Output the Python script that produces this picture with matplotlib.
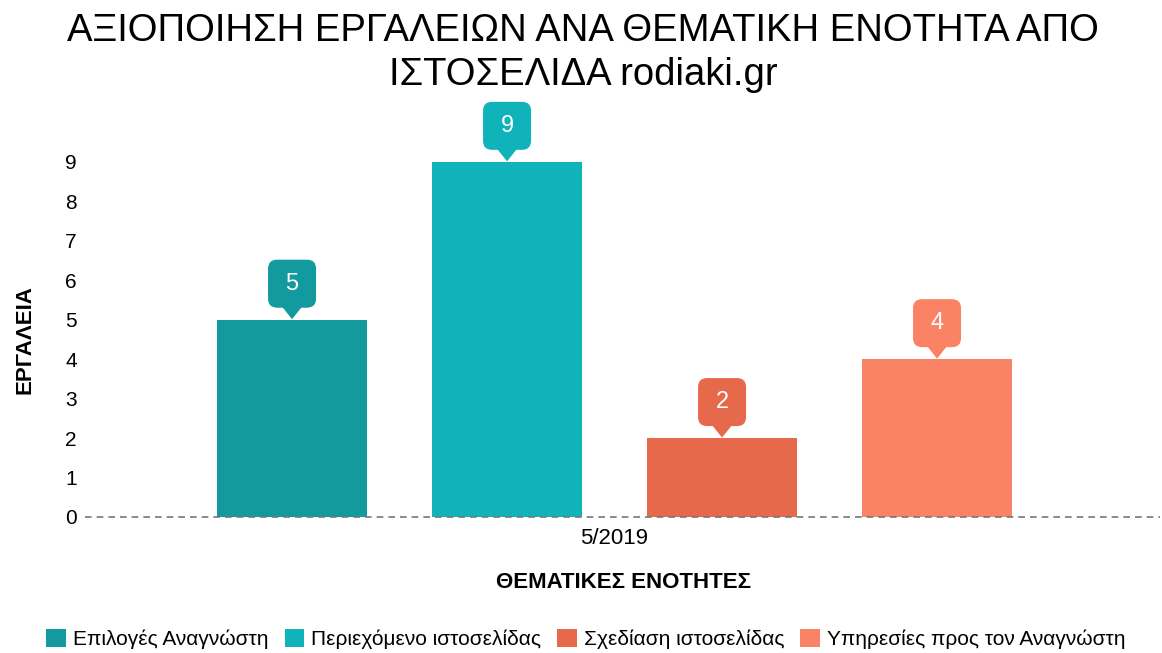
import matplotlib
matplotlib.use("Agg")
import matplotlib.pyplot as plt
import matplotlib.transforms as mtransforms
from matplotlib.patches import FancyBboxPatch, Polygon

plt.rcParams['font.family'] = ['Liberation Sans', 'DejaVu Sans']

title = "ΑΞΙΟΠΟΙΗΣΗ ΕΡΓΑΛΕΙΩΝ ΑΝΑ ΘΕΜΑΤΙΚΗ ΕΝΟΤΗΤΑ ΑΠΟ\nΙΣΤΟΣΕΛΙΔΑ rodiaki.gr"
category = "5/2019"
series_names = ["Επιλογές Αναγνώστη", "Περιεχόμενο ιστοσελίδας",
                "Σχεδίαση ιστοσελίδας", "Υπηρεσίες προς τον Αναγνώστη"]
values = [5, 9, 2, 4]
colors = ["#129A9F", "#11B3BA", "#E6694C", "#FA8265"]
yticks = list(range(0, 10))
ylabel = "ΕΡΓΑΛΕΙΑ"
xlabel = "ΘΕΜΑΤΙΚΕΣ ΕΝΟΤΗΤΕΣ"

W, H = 1162, 653
fig = plt.figure(figsize=(W / 100, H / 100), dpi=100)
ax_left, ax_right, ax_bottom, ax_top = 85, 1160, 517, 150
ax = fig.add_axes([ax_left / W, (H - ax_bottom) / H,
                   (ax_right - ax_left) / W, (ax_bottom - ax_top) / H])

positions = list(range(len(values)))
bars = []
for i, (v, c, n) in enumerate(zip(values, colors, series_names)):
    b = ax.bar(positions[i], v, width=0.7, color=c, label=n, zorder=2)
    bars.append(b)

ax.set_xlim(-0.963, 4.037)
ax.set_ylim(0, 9.3)
ax.set_yticks(yticks)
ax.set_yticklabels([str(t) for t in yticks], fontsize=15)
ax.set_xticks([1.5])
ax.set_xticklabels([category], fontsize=16)
ax.tick_params(length=0)
ax.tick_params(axis='x', pad=8)
ax.tick_params(axis='y', pad=6)
for s in ax.spines.values():
    s.set_visible(False)
ax.axhline(0, color="#777777", lw=1.2, ls=(0, (4, 3)), zorder=3, clip_on=False)

# callouts (shape in inches around data anchor)
bw, bh, gap, tw = 0.48, 0.48, 0.12, 0.20
for x, v, c in zip(positions, values, colors):
    tr = fig.dpi_scale_trans + mtransforms.ScaledTranslation(x, v, ax.transData)
    box = FancyBboxPatch((-bw / 2, gap), bw, bh,
                         boxstyle="round,pad=0,rounding_size=0.09",
                         facecolor=c, edgecolor='none', transform=tr,
                         clip_on=False, zorder=4)
    ax.add_patch(box)
    tri = Polygon([(-tw / 2, gap + 0.01), (tw / 2, gap + 0.01), (0, 0.005)],
                  closed=True, facecolor=c, edgecolor='none', transform=tr,
                  clip_on=False, zorder=4)
    ax.add_patch(tri)
    ax.text(0, gap + bh / 2, str(v), transform=tr, ha='center', va='center',
            color='white', fontsize=17, zorder=5, clip_on=False)

fig.text(583 / W, 1 - 53 / H, title, ha='center', va='center', fontsize=27.5,
         linespacing=1.3)
fig.text(25 / W, 1 - 340 / H, ylabel, rotation=90, ha='center', va='center',
         fontsize=16, fontweight='bold')
fig.text(624 / W, 1 - 583 / H, xlabel, ha='center', va='center',
         fontsize=16, fontweight='bold')

handles = [b.patches[0] for b in bars]
fig.legend(handles, series_names, loc='center', bbox_to_anchor=(586 / W, 1 - 639 / H),
           ncol=4, frameon=False, fontsize=15, handlelength=0.95, handleheight=0.95,
           handletextpad=0.33, columnspacing=0.77, borderpad=0, borderaxespad=0)

fig.savefig("out.png", dpi=100)
